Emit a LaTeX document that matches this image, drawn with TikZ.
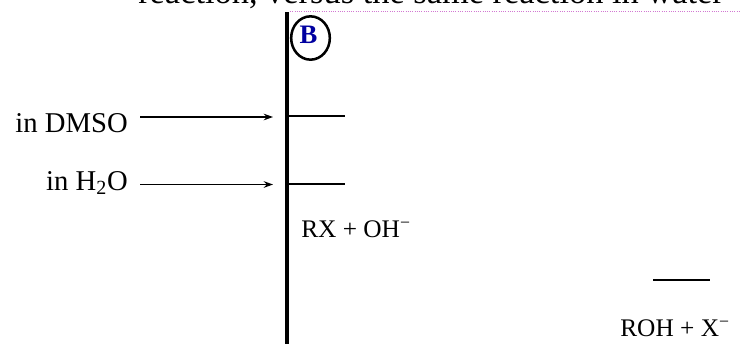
\documentclass[tikz,border=0pt]{standalone}
\usepackage{fontspec}
\setmainfont{Liberation Serif}
\usetikzlibrary{arrows.meta,shapes.geometric,calc}
\definecolor{labelblue}{RGB}{0,0,160}
\definecolor{guidepink}{RGB}{210,120,210}

\begin{document}
\begin{tikzpicture}[x=0.75pt, y=-0.75pt,
  lbl/.style={font=\fontsize{21.5}{24}\selectfont, inner sep=0pt},
  rxn/.style={font=\fontsize{19}{22}\selectfont, inner sep=0pt},
  level/.style={line width=0.9pt},
  feed/.style={line width=0.9pt, -{Stealth[length=7pt, width=5pt]}}]
  \useasboundingbox (0,0) rectangle (741,344);
  \node[anchor=base west, font=\fontsize{25.8}{30}\selectfont, inner sep=0pt] at (138,3) (title) {reaction, versus the same reaction in water};
  \draw[guidepink, densely dotted, line width=0.7pt] (290,11) -- (741,11);
  \coordinate (top) at (287,12);
  \coordinate (bot) at (287,344);
  \draw[line width=2.4pt] (top) -- (bot);
  \node[ellipse, draw, line width=1.9pt, minimum width=29pt, minimum height=32.5pt, inner sep=0pt] at (310.5,38) (ring) {};
  \node[font=\fontsize{20}{22}\selectfont\bfseries, text=labelblue, inner sep=0pt] at (308.5,35) (B) {B};
  \node[lbl, anchor=base east] at (128,132) (dmso) {in DMSO};
  \node[lbl, anchor=base east] at (128,190) (water) {in H\textsubscript{2}O};
  \coordinate (dmsoTail) at (140,117);
  \coordinate (dmsoTip) at (273,117);
  \coordinate (waterTail) at (140,184.5);
  \coordinate (waterTip) at (273,184.5);
  \draw[feed] (dmsoTail) -- (dmsoTip);
  \draw[feed] (waterTail) -- (waterTip);
  \draw[level] (top |- 0,116) -- (345,116);
  \draw[level] (top |- 0,184) -- (345,184);
  \node[rxn, anchor=base west] at (301,237) (reac) {RX + OH\textsuperscript{\char"2212}};
  \draw[level] (653,280) -- (710,280);
  \node[rxn, anchor=base east] at (730,336) (prod) {ROH + X\textsuperscript{\char"2212}};
\end{tikzpicture}
\end{document}
